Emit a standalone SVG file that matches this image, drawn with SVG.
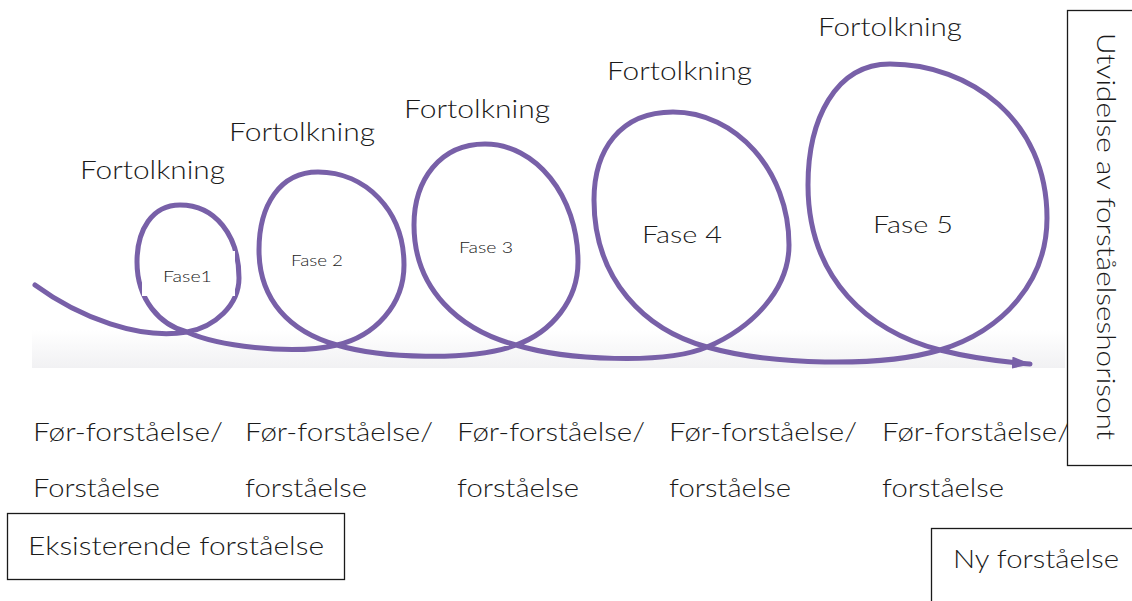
<svg xmlns="http://www.w3.org/2000/svg" width="1132" height="601" viewBox="0 0 1132 601">
<defs>
<linearGradient id="band" x1="0" y1="0" x2="0" y2="1">
<stop offset="0" stop-color="#ffffff"/>
<stop offset="1" stop-color="#f1f1f3"/>
</linearGradient>
<marker id="arrow" markerWidth="22" markerHeight="12" refX="18" refY="6" orient="auto" markerUnits="userSpaceOnUse">
<path d="M0,0 L20,6 L0,12 Z" fill="#7860a8"/>
</marker>
<style>
.t{font-family:Lato,"Open Sans","Liberation Sans",sans-serif;font-weight:300;fill:#1a1a1a}
.lbl{font-size:26px}
.fase{font-size:16px}
.big{font-size:24px}
.box{fill:#ffffff;stroke:#1a1a1a;stroke-width:1.3}
.spiral{fill:none;stroke:#7860a8;stroke-width:5;stroke-linecap:round;stroke-linejoin:round}
</style>
</defs>
<rect x="0" y="0" width="1132" height="601" fill="#ffffff"/>
<rect x="32" y="330" width="1033" height="38" fill="url(#band)"/>

<g id="connectors">
<path class="spiral" marker-end="url(#arrow)" d="M35,285 C80,318 140,340 187,332 C215,327 239,305 239,278 C239,235 215,205 180,205 C152,205 137,230 137,262 C137,300 160,325 187,332 C215,345 290,356 337,345 C375,336 404,305 404,265 C404,210 365,172 318,172 C280,172 259,205 259,250 C259,300 290,332 337,345 C380,358 470,362 516,345 C552,332 578,300 578,262 C578,195 535,144 485,144 C440,144 414,180 414,225 C414,290 460,330 516,345 C565,360 665,365 707,347 C752,328 789,290 789,245 C789,170 735,112 673,112 C620,112 594,150 594,200 C594,280 645,330 707,347 C770,365 880,368 940,350 C1005,330 1047,280 1047,218 C1047,120 970,64 890,64 C835,64 808,120 808,185 C808,280 870,332 940,350 C975,359 1005,362 1030,364"/>
</g>

<g id="fase1"><rect x="142" y="251" width="93" height="45" fill="#ffffff"/><text class="t fase" x="163" y="282" textLength="49" lengthAdjust="spacingAndGlyphs">Fase1</text></g>
<g id="fase2"><rect x="271" y="247" width="90" height="41" fill="#ffffff"/><text class="t fase" x="291" y="266" textLength="52" lengthAdjust="spacingAndGlyphs">Fase 2</text></g>
<g id="fase3"><text class="t fase" x="459" y="253" textLength="54" lengthAdjust="spacingAndGlyphs">Fase 3</text></g>
<g id="fase4"><text class="t big" x="642" y="243" textLength="80" lengthAdjust="spacingAndGlyphs">Fase 4</text></g>
<g id="fase5"><text class="t big" x="873" y="233" textLength="80" lengthAdjust="spacingAndGlyphs">Fase 5</text></g>

<g id="fortolkning1"><text class="t lbl" x="80" y="179" textLength="145" lengthAdjust="spacingAndGlyphs">Fortolkning</text></g>
<g id="fortolkning2"><text class="t lbl" x="229" y="141" textLength="146" lengthAdjust="spacingAndGlyphs">Fortolkning</text></g>
<g id="fortolkning3"><text class="t lbl" x="404" y="118" textLength="146" lengthAdjust="spacingAndGlyphs">Fortolkning</text></g>
<g id="fortolkning4"><text class="t lbl" x="607" y="80" textLength="145" lengthAdjust="spacingAndGlyphs">Fortolkning</text></g>
<g id="fortolkning5"><text class="t lbl" x="818" y="36" textLength="144" lengthAdjust="spacingAndGlyphs">Fortolkning</text></g>

<g id="col1"><text class="t lbl" x="33" y="441" textLength="190" lengthAdjust="spacingAndGlyphs">Før-forståelse/</text><text class="t lbl" x="33" y="497" textLength="127" lengthAdjust="spacingAndGlyphs">Forståelse</text></g>
<g id="col2"><text class="t lbl" x="245" y="441" textLength="188" lengthAdjust="spacingAndGlyphs">Før-forståelse/</text><text class="t lbl" x="245" y="497" textLength="122" lengthAdjust="spacingAndGlyphs">forståelse</text></g>
<g id="col3"><text class="t lbl" x="457" y="441" textLength="188" lengthAdjust="spacingAndGlyphs">Før-forståelse/</text><text class="t lbl" x="457" y="497" textLength="122" lengthAdjust="spacingAndGlyphs">forståelse</text></g>
<g id="col4"><text class="t lbl" x="669" y="441" textLength="188" lengthAdjust="spacingAndGlyphs">Før-forståelse/</text><text class="t lbl" x="669" y="497" textLength="122" lengthAdjust="spacingAndGlyphs">forståelse</text></g>
<g id="col5"><text class="t lbl" x="882" y="441" textLength="188" lengthAdjust="spacingAndGlyphs">Før-forståelse/</text><text class="t lbl" x="882" y="497" textLength="122" lengthAdjust="spacingAndGlyphs">forståelse</text></g>

<g id="horisont"><rect class="box" x="1067.5" y="10.5" width="80" height="455" fill="none"/><text class="t" font-size="25" transform="translate(1097,33) rotate(90)" textLength="407" lengthAdjust="spacingAndGlyphs">Utvidelse av forståelseshorisont</text></g>
<g id="eksisterende"><rect class="box" x="7.5" y="513.5" width="337" height="66"/><text class="t lbl" x="28" y="555" textLength="296" lengthAdjust="spacingAndGlyphs">Eksisterende forståelse</text></g>
<g id="ny"><rect class="box" x="931.5" y="528.5" width="220" height="90"/><text class="t lbl" x="953" y="568" textLength="166" lengthAdjust="spacingAndGlyphs">Ny forståelse</text></g>
</svg>
